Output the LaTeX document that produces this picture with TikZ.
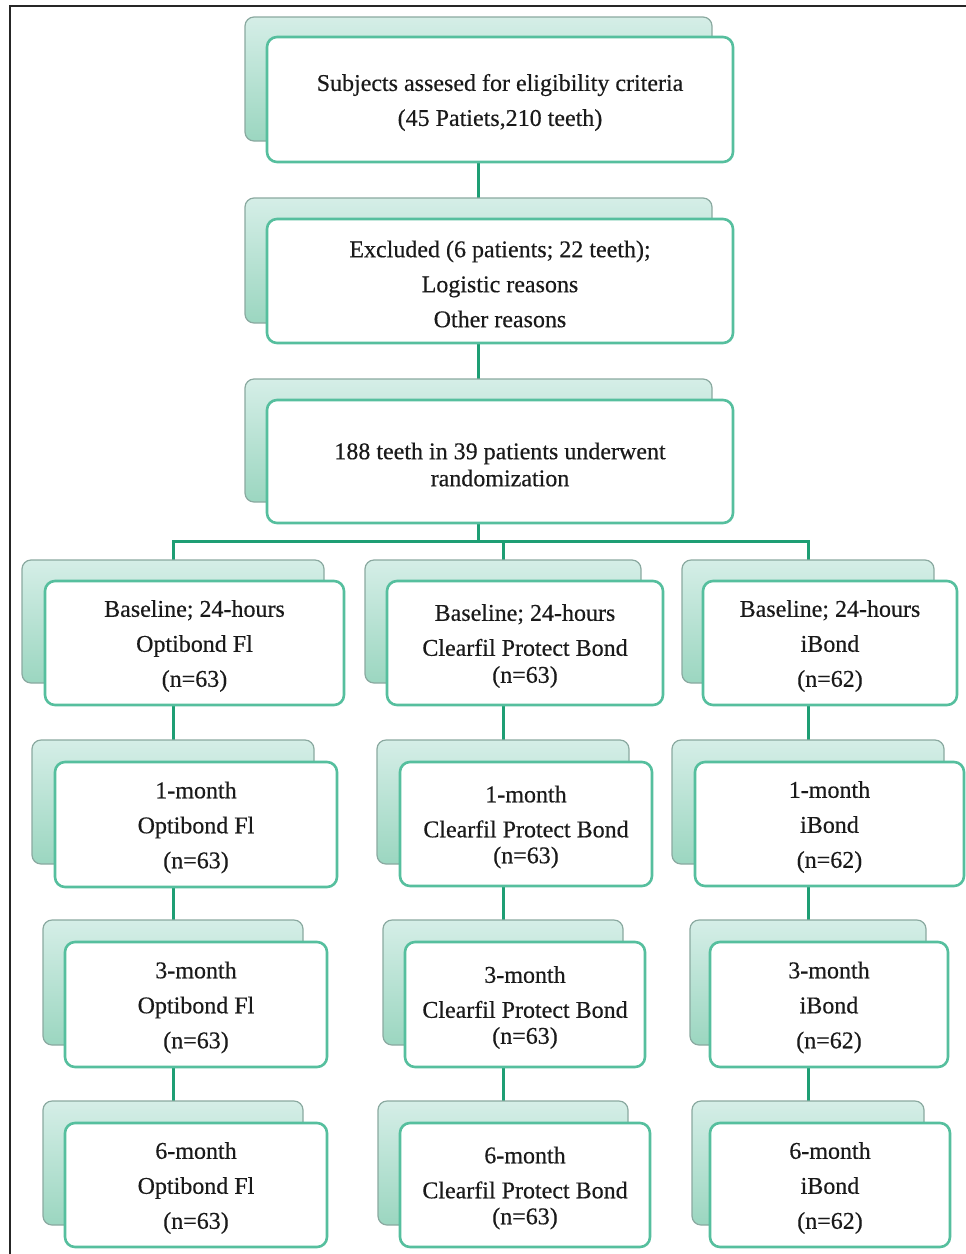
\documentclass[tikz,border=0pt]{standalone}
\usepackage{fontspec}
\setmainfont{Liberation Serif}
\newfontfamily\boxfont[FakeBold=0.4]{Liberation Serif}
\usetikzlibrary{fit}
\pgfdeclarelayer{background}
\pgfsetlayers{background,main}
\definecolor{conn}{HTML}{1E9E74}
\definecolor{fborder}{HTML}{56BF9E}
\definecolor{bborder}{HTML}{8AA9A0}
\definecolor{btop}{HTML}{D5EEE7}
\definecolor{bbot}{HTML}{9BD6C0}
\definecolor{txt}{HTML}{1A1A1A}
\tikzset{
 backbox/.style={rectangle, rounded corners=9pt, draw=bborder, line width=1.2pt, top color=btop, bottom color=bbot, inner sep=0pt},
 frontbox/.style={rectangle, rounded corners=10pt, draw=fborder, line width=2.6pt, fill=white, inner sep=0pt},
 boxtext/.style={align=center, text=txt, inner sep=0pt, font=\boxfont\fontsize{24}{35}\selectfont},
 link/.style={draw=conn, line width=3pt},
 frameline/.style={draw=black!85, line width=1.5pt}
}
\newcommand\flowbox[4]{%
 \node[backbox, fit={#2}] (#1b) {};
 \node[frontbox, fit={#3}] (#1) {};
 \node[boxtext] (#1t) at ([yshift=-3pt]#1.center) {#4};
}
\begin{document}
\begin{tikzpicture}[x=1pt,y=-1pt]
\useasboundingbox (0,0) rectangle (966,1254);
\draw[frameline] (966,6) -- (10,6) -- (10,1254);

\flowbox{sub}{(245,17)(712,141)}{(267,37)(733,162)}{Subjects assesed for eligibility criteria\\(45 Patiets,210 teeth)}
\flowbox{exc}{(245,198)(712,323)}{(267,219)(733,343)}{Excluded (6 patients; 22 teeth);\\Logistic reasons\\Other reasons}
\flowbox{rand}{(245,379)(712,502)}{(267,400)(733,523)}{188 teeth in 39 patients underwent\\[-8pt]randomization}

% row 1
\flowbox{aL}{(22,560)(324,683)}{(45,581)(344,705)}{Baseline; 24-hours\\Optibond Fl\\(n=63)}
\flowbox{aM}{(365,560)(641,683)}{(387,581)(663,705)}{Baseline; 24-hours\\Clearfil Protect Bond\\[-8pt](n=63)}
\flowbox{aR}{(682,560)(934,683)}{(703,581)(957,705)}{Baseline; 24-hours\\iBond\\(n=62)}
% row 2
\flowbox{bL}{(32,740)(314,864)}{(55,762)(337,887)}{1-month\\Optibond Fl\\(n=63)}
\flowbox{bM}{(377,740)(629,864)}{(400,762)(652,886)}{1-month\\Clearfil Protect Bond\\[-9pt](n=63)}
\flowbox{bR}{(672,740)(944,864)}{(695,762)(964,886)}{1-month\\iBond\\(n=62)}
% row 3
\flowbox{cL}{(43,920)(303,1045)}{(65,942)(327,1067)}{3-month\\Optibond Fl\\(n=63)}
\flowbox{cM}{(383,920)(623,1045)}{(405,942)(645,1067)}{3-month\\Clearfil Protect Bond\\[-9pt](n=63)}
\flowbox{cR}{(690,920)(926,1045)}{(710,942)(948,1067)}{3-month\\iBond\\(n=62)}
% row 4
\flowbox{dL}{(43,1101)(303,1225)}{(65,1123)(327,1247)}{6-month\\Optibond Fl\\(n=63)}
\flowbox{dM}{(378,1101)(628,1225)}{(400,1123)(650,1247)}{6-month\\Clearfil Protect Bond\\[-9pt](n=63)}
\flowbox{dR}{(692,1101)(924,1225)}{(710,1123)(950,1247)}{6-month\\iBond\\(n=62)}

\begin{pgfonlayer}{background}
\draw[link] (subb.center) -- (excb.center);
\draw[link] (excb.center) -- (randb.center);
\coordinate (bus) at (478.5,541);
\draw[link] (randb.center) -- (bus);
\draw[link] (aLb.center) -- (aLb.center |- bus) -- (aRb.center |- bus) -- (aRb.center);
\draw[link] (aMb.center) -- (aMb.center |- bus);
\draw[link] (aLb.center) -- (bLb.center) -- (cLb.center) -- (dLb.center);
\draw[link] (aMb.center) -- (bMb.center) -- (cMb.center) -- (dMb.center);
\draw[link] (aRb.center) -- (bRb.center) -- (cRb.center) -- (dRb.center);
\end{pgfonlayer}
\end{tikzpicture}
\end{document}
